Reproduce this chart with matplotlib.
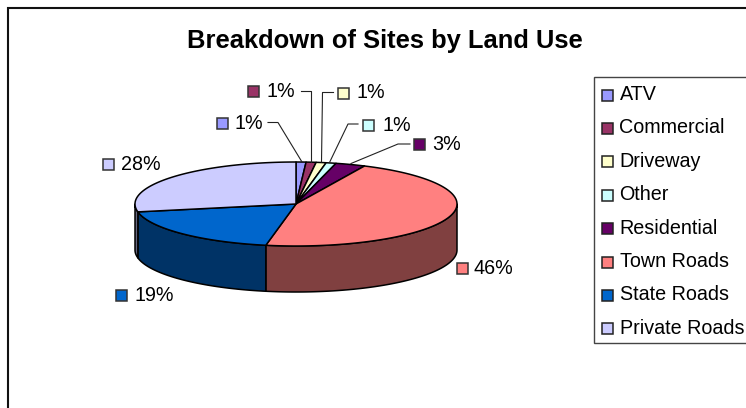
import numpy as np
import matplotlib
matplotlib.use('Agg')
import matplotlib.pyplot as plt
from matplotlib.patches import Polygon, Rectangle

plt.rcParams['font.family'] = ['Liberation Sans', 'DejaVu Sans']

# Chart data
categories = ['ATV', 'Commercial', 'Driveway', 'Other', 'Residential',
              'Town Roads', 'State Roads', 'Private Roads']
values = [1, 1, 1, 1, 3, 46, 19, 28]
top_colors = ['#9999FF', '#993366', '#FFFFCC', '#CCFFFF', '#660066',
              '#FF8080', '#0066CC', '#CCCCFF']
side_colors = ['#4D4D80', '#4D1A33', '#808066', '#668080', '#330033',
               '#804040', '#003366', '#666680']

# Pie geometry, in pixels of the picture
CX, CY = 296, 204
RX, RY = 161, 42
DEPTH = 46
EDGE = '#000000'

# swatch left, swatch top, text left for every data label
label_pos = [(216.5, 118, 235), (248, 86, 267), (337.5, 87.5, 356), (363, 120, 382),
             (414, 139, 432), (457, 263, 474), (116, 290, 134), (103, 159, 121)]
# elbow leader lines for the small slices
leaders = [[(268, 122.5), (278, 122.5), (302, 162)],
           [(300.5, 91), (310.5, 91), (310.5, 162)],
           [(333.5, 92.5), (322.5, 92.5), (321.5, 162)],
           [(358, 124), (348, 124), (329.5, 162.5)],
           [(410, 144), (398, 144), (351, 163.5)]]


def ellipse_points(start, end, dy=0):
    """Points along the pie rim, angles in degrees clockwise from the top."""
    n = max(int(abs(end - start)) * 2, 2)
    t = np.radians(np.linspace(start, end, n))
    return np.column_stack([CX + RX * np.sin(t), CY - RY * np.cos(t) + dy])


fig = plt.figure(figsize=(7.46, 4.08), dpi=100)
ax = fig.add_axes([0, 0, 1, 1])
ax.set_xlim(0, 746)
ax.set_ylim(408, 0)
ax.axis('off')

# Chart border, only top and left are inside the crop
ax.plot([7.5, 7.5, 760], [420, 8, 8], color='#111111', lw=1.5, solid_joinstyle='miter')

ax.text(385, 48, 'Breakdown of Sites by Land Use', fontsize=18.4, fontweight='bold',
        ha='center', va='baseline', color='black')

angles = np.cumsum([0] + values) / sum(values) * 360

# Side wall first, only the front half of the rim shows
for i in range(len(values)):
    a0, a1 = max(angles[i], 90), min(angles[i + 1], 270)
    if a1 <= a0:
        continue
    upper = ellipse_points(a0, a1)
    lower = ellipse_points(a1, a0, DEPTH)
    ax.add_patch(Polygon(np.vstack([upper, lower]), closed=True, facecolor=side_colors[i],
                         edgecolor=EDGE, lw=1.1, joinstyle='round'))

# Top face
for i in range(len(values)):
    rim = ellipse_points(angles[i], angles[i + 1])
    ax.add_patch(Polygon(np.vstack([[CX, CY], rim]), closed=True, facecolor=top_colors[i],
                         edgecolor=EDGE, lw=1.1, joinstyle='round'))

# Leader lines
for pts in leaders:
    xs, ys = zip(*pts)
    ax.plot(xs, ys, color='#222222', lw=0.8)

# Data labels
for i, (sx, sy, tx) in enumerate(label_pos):
    ax.add_patch(Rectangle((sx, sy), 11, 11, facecolor=top_colors[i], edgecolor='#333333', lw=1.1))
    ax.text(tx, sy + 11, f'{values[i]}%', fontsize=14.2, ha='left', va='baseline', color='black')

# Legend, its right side runs off the picture
ax.add_patch(Rectangle((593.5, 76.5), 170, 266.5, facecolor='white', edgecolor='#444444', lw=1.0))
for i, name in enumerate(categories):
    y = 95 + i * 33.4
    ax.add_patch(Rectangle((601.5, y - 5.5), 11, 11, facecolor=top_colors[i], edgecolor='#222222', lw=1.1))
    ax.text(619.5, y + 5, name, fontsize=14.2, ha='left', va='baseline', color='black')

fig.savefig('out.png', dpi=100)
plt.close(fig)
